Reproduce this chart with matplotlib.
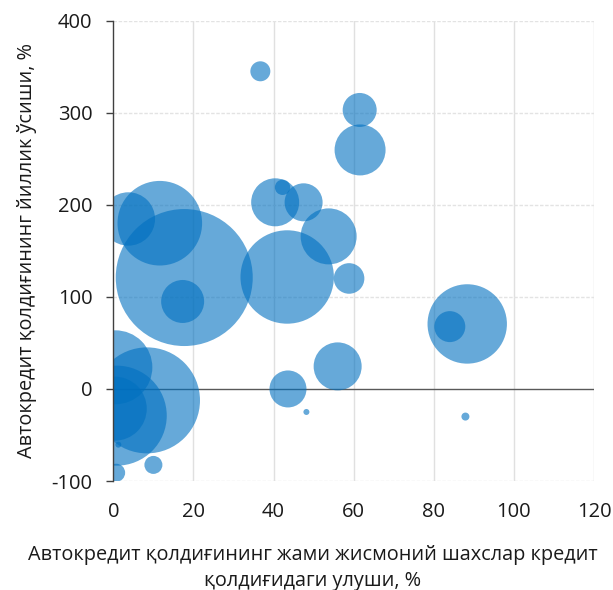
import matplotlib
matplotlib.use("Agg")
import matplotlib.pyplot as plt
import numpy as np

plt.rcParams['font.family'] = ['Open Sans', 'DejaVu Sans']
plt.rcParams['axes.unicode_minus'] = False

# Data (x: share %, y: annual growth %, size: bubble volume)
share = [36.7, 3.75, 11.6, 17.7, 17.3, 40.4, 42.25, 47.5, 43.4, 53.75, 58.85,
         61.5, 61.6, 88.35, 84.0, 56.0, 43.6, 48.2, 87.9, 10.0, 0.7, 1.25,
         0.5, 8.4, 0.85, 0.35]
growth = [345, 184.6, 180, 121, 95, 202.7, 219, 202.7, 121.6, 165.7, 120,
          303, 259.6, 70.6, 67.7, 24.5, 0, -25, -30, -82.5, -91, -60.5,
          23.5, -12.4, -29, -21.4]
volume = [100, 713, 1789, 4692, 462, 576, 59, 361, 2181, 784, 234,
          289, 650, 1576, 240, 576, 342, 9, 16, 81, 81, 9,
          1369, 2809, 2500, 1024]

x_ticks = [0, 20, 40, 60, 80, 100, 120]
y_ticks = [-100, 0, 100, 200, 300, 400]

DPI = 100
fig = plt.figure(figsize=(6.13, 5.90), dpi=DPI)
ax = fig.add_axes([0.1849, 0.1847, 0.969 - 0.1849, 0.965 - 0.1847])

# volume is proportional to bubble area (pixel radius^2)
px_to_pt = 72.0 / DPI
sizes = [(2 * np.sqrt(v) * px_to_pt) ** 2 for v in volume]

ax.scatter(share, growth, s=sizes, color='#0070C0', alpha=0.6,
           edgecolors='none', zorder=3)

ax.set_xlim(0, 120)
ax.set_ylim(-100, 400)
ax.set_xticks(x_ticks)
ax.set_yticks(y_ticks)

# grid
for xv in x_ticks[1:]:
    ax.axvline(xv, color='#e0e0e0', lw=1.0, zorder=1)
for yv in y_ticks:
    if yv != 0:
        ax.axhline(yv, color='#e3e3e3', lw=1.0, ls=(0, (2.5, 1.2)), zorder=1)
ax.axhline(0, color='#595959', lw=1.0, zorder=2)

for s in ['top', 'right', 'bottom']:
    ax.spines[s].set_visible(False)
ax.spines['left'].set_color('#404040')
ax.spines['left'].set_linewidth(1.0)
ax.spines['left'].set_zorder(4)

ax.tick_params(axis='y', direction='out', length=5, width=1, color='#404040',
               labelsize=14.5, labelcolor='#1a1a1a', pad=10)
ax.tick_params(axis='x', length=0, labelsize=14.5, labelcolor='#1a1a1a', pad=15)

ax.set_ylabel('Автокредит қолдиғининг йиллик ўсиши, %', fontsize=14.3,
              color='#1a1a1a')
ax.yaxis.set_label_coords(-0.158, 0.5)
ax.set_xlabel('Автокредит қолдиғининг жами жисмоний шахслар кредит\nқолдиғидаги улуши, %',
              fontsize=14.3, color='#1a1a1a', linespacing=1.4)
ax.xaxis.set_label_coords(0.4154, -0.138)

fig.savefig('out.png', dpi=DPI)
